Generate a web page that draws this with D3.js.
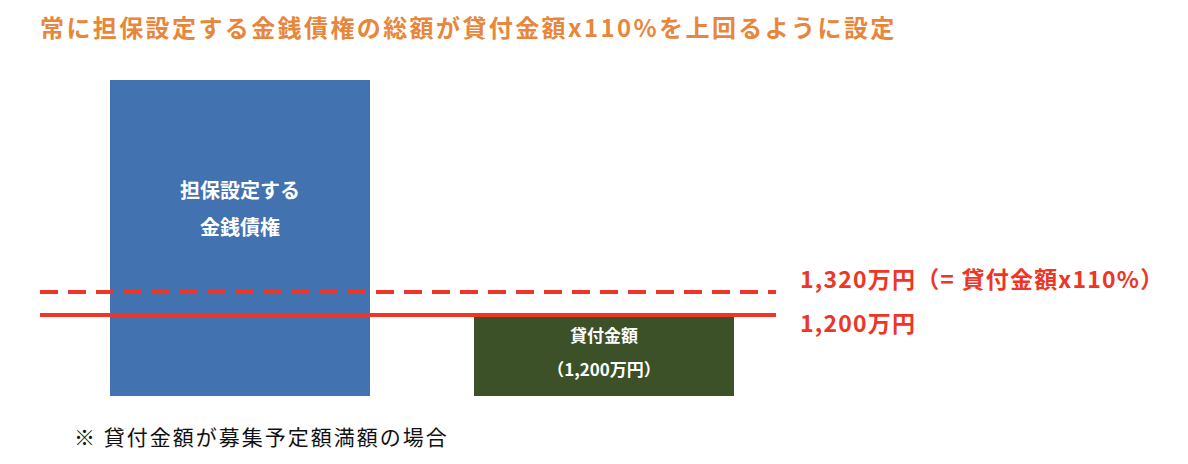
<!DOCTYPE html>
<html><head><meta charset="utf-8">
<script src="https://cdn.jsdelivr.net/npm/d3@7"></script>
<style>body{margin:0;background:#fff}text{font-family:"Noto Sans CJK JP","Noto Sans",sans-serif}</style>
</head><body>
<svg id="c" width="1188" height="464"></svg>
<script>
// data (schematic values, in 万円)
var barNames = ["担保設定する|金銭債権", "貸付金額|（1,200万円）"];
var barValues = [2420, 1200];
var barColors = ["#4272AF", "#3D5128"];
var lineValues = [1320, 1200];
var lineLabels = ["1,320万円（= 貸付金額x110%）", "1,200万円"];
var lineDash = ["18,10", null];

var svg = d3.select("#c");
var y = d3.scaleLinear().domain([780, 2420]).range([396, 80]);
var x = d3.scaleBand().domain(barNames).range([110, 734]).paddingInner(104/364).paddingOuter(0);

svg.append("text").attr("x", 40).attr("y", 37)
  .attr("fill", "#E8863C").attr("font-size", 24).attr("font-weight", "bold")
  .attr("letter-spacing", 2.4)
  .text("常に担保設定する金銭債権の総額が貸付金額x110%を上回るように設定");

var g = svg.selectAll("g.bar").data(barNames).enter().append("g");
g.append("rect")
  .attr("x", function(d){ return x(d); })
  .attr("width", x.bandwidth())
  .attr("y", function(d,i){ return y(barValues[i]); })
  .attr("height", function(d,i){ return y(780) - y(barValues[i]); })
  .attr("fill", function(d,i){ return barColors[i]; });
g.each(function(d,i){
  var parts = d.split("|");
  var cy = i == 0 ? 198 : 342;
  var gap = i == 0 ? 37 : 34;
  var fs = i == 0 ? 20 : 17;
  parts.forEach(function(p,k){
    d3.select(this).append("text")
      .attr("x", x(d) + x.bandwidth()/2).attr("y", cy + k*gap)
      .attr("text-anchor", "middle").attr("fill", "#fff")
      .attr("font-size", fs).attr("font-weight", "bold").text(p);
  }, this);
});

svg.selectAll("line.ref").data(lineValues).enter().append("line")
  .attr("x1", 40).attr("x2", 776)
  .attr("y1", function(d){ return y(d); }).attr("y2", function(d){ return y(d); })
  .attr("stroke", "#EE3526").attr("stroke-width", 4)
  .attr("stroke-dasharray", function(d,i){ return lineDash[i]; });

svg.selectAll("text.lab").data(lineLabels).enter().append("text")
  .attr("x", 800)
  .attr("y", function(d,i){ return i == 0 ? 288 : 332; })
  .attr("fill", "#EE3526").attr("font-size", 23).attr("font-weight", "bold")
  .attr("letter-spacing", 1.2)
  .text(function(d){ return d; });

svg.append("text").attr("x", 74).attr("y", 445)
  .attr("fill", "#111").attr("font-size", 21)
  .attr("letter-spacing", 2)
  .text("※ 貸付金額が募集予定額満額の場合");
</script>
</body></html>
